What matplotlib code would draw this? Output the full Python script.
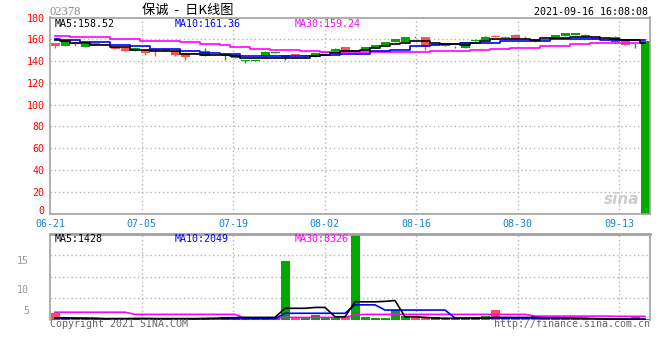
import numpy as np
import matplotlib
matplotlib.use("Agg")
import matplotlib.pyplot as plt
from matplotlib.transforms import offset_copy

# dates shown on the x axis and the bar index they belong to
DATE_LABELS = ["06-21", "07-05", "07-19", "08-02", "08-16", "08-30", "09-13"]
DATE_INDEX = [0, 9, 18, 27, 36, 46, 56]

OPEN = [156.4, 154.2, 156.2, 153.0, 156.4, 155.0, 153.3, 152.4, 149.3, 149.7,
        151.0, 151.0, 149.0, 147.0, 146.3, 145.0, 146.4, 144.2, 143.2, 140.3,
        140.2, 144.7, 147.8, 143.5, 145.7, 144.8, 144.7, 147.8, 149.3, 152.6,
        148.7, 150.0, 151.8, 154.5, 157.3, 157.3, 162.0, 161.8, 154.5, 154.0,
        152.6, 152.4, 158.6, 159.4, 162.7, 162.5, 164.0, 161.2, 160.0, 159.4,
        162.0, 163.0, 164.0, 162.0, 161.0, 160.0, 157.3, 160.0, 156.2, 0.0]
CLOSE = [154.2, 158.5, 155.8, 155.5, 154.8, 154.6, 151.1, 149.3, 151.8, 147.2,
         148.8, 149.0, 145.2, 143.6, 146.6, 149.0, 146.1, 146.6, 145.8, 140.7,
         140.6, 148.0, 148.1, 145.6, 145.4, 145.1, 147.0, 148.2, 151.0, 149.3,
         150.0, 152.6, 154.8, 157.3, 160.0, 161.8, 161.7, 153.3, 155.7, 156.0,
         153.0, 157.3, 159.0, 162.5, 162.4, 161.0, 160.3, 160.9, 157.8, 159.8,
         164.0, 165.5, 165.5, 164.0, 160.5, 159.6, 161.9, 154.8, 156.6, 158.0]
HIGH = [156.6, 158.6, 156.4, 156.0, 156.6, 155.2, 153.4, 152.5, 152.0, 149.8,
        151.1, 151.2, 149.2, 147.1, 146.8, 151.8, 146.6, 146.8, 146.0, 140.9,
        140.8, 149.4, 148.3, 145.8, 146.8, 145.3, 147.2, 148.6, 151.8, 152.8,
        150.2, 152.8, 155.0, 157.5, 160.2, 162.0, 163.0, 162.0, 155.9, 156.2,
        153.4, 157.5, 159.8, 162.7, 163.6, 162.7, 164.6, 162.6, 160.2, 160.0,
        164.2, 166.0, 166.2, 164.6, 161.2, 160.2, 163.0, 160.2, 156.8, 158.2]
LOW = [152.4, 154.0, 153.4, 152.9, 154.6, 154.4, 151.0, 149.2, 149.2, 145.6,
       144.7, 148.8, 145.0, 140.8, 146.1, 144.8, 145.9, 141.2, 143.0, 138.6,
       140.1, 144.6, 147.7, 141.4, 145.0, 142.5, 143.3, 147.6, 149.2, 149.2,
       148.6, 149.9, 151.7, 154.4, 157.2, 157.2, 160.8, 150.2, 154.4, 153.9,
       152.4, 152.3, 158.2, 159.3, 161.8, 160.9, 160.2, 160.0, 157.2, 159.3,
       161.9, 162.8, 163.9, 161.9, 160.4, 159.5, 157.0, 154.7, 152.4, 0.0]

MA5 = [159.0, 158.2, 156.7, 156.7, 154.8, 154.8, 153.0, 153.0, 150.6, 150.6,
       149.0, 149.0, 149.0, 146.9, 146.9, 145.3, 145.3, 145.3, 144.4, 143.2,
       143.2, 143.2, 143.2, 143.2, 143.2, 143.2, 144.7, 146.0, 147.0, 149.0,
       149.0, 150.6, 152.0, 153.7, 155.4, 156.9, 158.2, 158.2, 156.7, 156.0,
       156.0, 155.2, 156.7, 158.5, 160.6, 160.6, 160.6, 160.6, 159.7, 161.6,
       161.6, 161.6, 162.5, 162.5, 162.5, 161.6, 160.6, 159.0, 159.0, 156.7]
MA10 = [160.0, 159.0, 159.0, 157.8, 157.8, 157.8, 155.2, 155.2, 153.7, 153.7,
        151.5, 151.5, 151.5, 149.0, 149.0, 147.5, 147.5, 146.3, 146.3, 144.5,
        144.5, 144.5, 144.7, 144.7, 144.7, 144.7, 144.7, 146.0, 146.0, 146.9,
        146.9, 146.9, 149.0, 149.0, 150.6, 150.6, 153.9, 153.9, 154.5, 155.4,
        155.4, 156.7, 156.7, 156.7, 156.7, 158.2, 158.2, 158.2, 158.2, 158.2,
        160.0, 160.0, 160.0, 160.0, 160.0, 159.7, 159.7, 159.7, 159.7, 159.7]
MA30 = [163.1, 163.1, 161.8, 161.8, 161.8, 161.8, 160.7, 160.7, 160.7, 158.8,
        158.8, 158.8, 158.8, 157.6, 157.6, 155.7, 155.7, 154.5, 153.0, 153.0,
        151.5, 151.5, 150.6, 150.6, 150.2, 149.0, 149.0, 148.0, 148.0, 148.0,
        148.0, 148.0, 148.0, 148.0, 148.4, 148.4, 148.4, 148.4, 149.0, 149.0,
        149.0, 149.0, 150.0, 150.0, 151.4, 151.4, 152.4, 152.4, 152.4, 154.0,
        154.0, 154.0, 155.4, 155.4, 156.3, 156.3, 156.3, 157.0, 157.0, 157.6]

# volume in units of 10k (scale labels 5 / 10 / 15)
VOLUME = [1.7, 0.3, 0.3, 0.25, 0.3, 0.25, 0.3, 0.3, 0.5, 0.3,
          0.3, 0.3, 0.3, 0.3, 0.3, 0.5, 0.5, 0.8, 0.5, 0.8,
          0.4, 0.8, 0.4, 13.7, 0.6, 0.6, 1.15, 0.6, 0.4, 0.6,
          21.0, 0.8, 0.4, 0.4, 2.2, 0.9, 0.6, 0.6, 0.6, 0.4,
          0.4, 0.4, 0.4, 0.9, 2.2, 0.4, 0.4, 0.4, 0.9, 0.4,
          0.9, 0.4, 0.4, 0.4, 0.25, 0.25, 0.25, 0.2, 0.6, 0.25]
VOL_MA5 = [0.5, 0.5, 0.45, 0.45, 0.4, 0.3, 0.3, 0.3, 0.35, 0.35,
           0.3, 0.3, 0.3, 0.3, 0.3, 0.35, 0.4, 0.5, 0.55, 0.6,
           0.6, 0.6, 0.6, 2.7, 2.7, 2.7, 2.9, 2.9, 0.75, 0.75,
           4.2, 4.2, 4.2, 4.3, 4.5, 0.75, 0.75, 0.6, 0.45, 0.4,
           0.4, 0.4, 0.4, 0.45, 0.6, 0.6, 0.6, 0.6, 0.6, 0.5,
           0.5, 0.45, 0.4, 0.4, 0.3, 0.25, 0.25, 0.2, 0.2, 0.15]
VOL_MA10 = [0.35, 0.35, 0.35, 0.3, 0.3, 0.3, 0.3, 0.3, 0.3, 0.3,
            0.3, 0.3, 0.3, 0.3, 0.3, 0.3, 0.3, 0.3, 0.3, 0.3,
            0.3, 0.3, 0.3, 1.55, 1.55, 1.55, 1.55, 1.55, 1.55, 1.55,
            3.5, 3.5, 3.5, 2.3, 2.3, 2.3, 2.3, 2.3, 2.3, 2.3,
            0.45, 0.45, 0.45, 0.45, 0.45, 0.45, 0.4, 0.4, 0.4, 0.4,
            0.35, 0.35, 0.35, 0.3, 0.3, 0.25, 0.25, 0.2, 0.2, 0.2]
VOL_MA30 = [1.8, 1.8, 1.8, 1.8, 1.8, 1.8, 1.8, 1.8, 1.3, 1.3,
            1.3, 1.3, 1.3, 1.3, 1.3, 1.3, 1.3, 1.3, 1.3, 0.4,
            0.4, 0.4, 0.4, 0.6, 0.6, 0.6, 0.6, 0.6, 0.6, 0.6,
            1.15, 1.3, 1.3, 1.3, 1.3, 1.3, 1.3, 1.3, 1.3, 1.3,
            1.3, 1.3, 1.3, 1.3, 1.3, 1.3, 1.3, 1.3, 0.9, 0.9,
            0.9, 0.9, 0.9, 0.9, 0.9, 0.9, 0.85, 0.85, 0.85, 0.83]

RED = "#ff5050"
GREEN = "#00a800"
GRID = "#b4b4b4"
FRAME = "#a0a0a0"
MONO = "DejaVu Sans Mono"
W, H = 660, 360


def px(x, y):
    # pixel position -> figure fraction
    return x / W, 1 - y / H


def axes_box(left, top, right, bottom):
    return [left / W, 1 - bottom / H, (right - left) / W, (bottom - top) / H]


def style_grid(ax, tick_pos):
    for x in tick_pos[1:]:
        ax.axvline(x, color=GRID, lw=1, ls=(0, (1, 2)), zorder=0)
    for s in ax.spines.values():
        s.set_color(FRAME)
        s.set_linewidth(1.2)


def main():
    x = np.arange(len(OPEN))
    o, c = np.array(OPEN), np.array(CLOSE)
    colors = [GREEN if cc > oo else RED for oo, cc in zip(o, c)]
    # grid lines are spaced on n-1 steps, bars on n
    tick_pos = [i * len(x) / (len(x) - 1) - 0.5 for i in DATE_INDEX]

    fig = plt.figure(figsize=(W / 100, H / 100), dpi=100)

    # price panel
    ax = fig.add_axes(axes_box(50, 17.5, 650, 213.5))
    ax.set_xlim(-0.5, len(x) - 0.5)
    ax.set_ylim(0, 180)
    style_grid(ax, tick_pos)
    for yv in range(20, 180, 20):
        ax.axhline(yv, color=GRID, lw=1, ls=(0, (1, 2)), zorder=0)

    ax.vlines(x, LOW, HIGH, colors=colors, lw=1, zorder=2)
    ax.bar(x, np.maximum(np.abs(c - o), 0.7), bottom=np.minimum(o, c),
           width=0.9, color=colors, lw=0, zorder=2)
    ax.plot(x, MA30, color="#ff00ff", lw=1.2, drawstyle="steps-mid", zorder=3)
    ax.plot(x, MA10, color="#0000ff", lw=1.2, drawstyle="steps-mid", zorder=3)
    ax.plot(x, MA5, color="black", lw=1.2, drawstyle="steps-mid", zorder=3)

    ax.set_yticks(range(0, 181, 20))
    ax.set_yticklabels([str(v) for v in range(0, 181, 20)], color="red",
                       family=MONO, fontsize=7.2)
    ax.set_xticks(tick_pos)
    ax.set_xticklabels(DATE_LABELS, color="#1284d6", family=MONO, fontsize=7.2)
    ax.tick_params(length=0, pad=4)
    # nudge the "0" label up a little so it clears the first date
    zero = ax.get_yticklabels()[0]
    zero.set_transform(offset_copy(zero.get_transform(), fig=fig,
                                   y=3, units="dots"))

    # volume panel
    av = fig.add_axes(axes_box(50, 234, 650, 320))
    av.set_xlim(-0.5, len(x) - 0.5)
    av.set_ylim(0, 86 / 4.33)
    style_grid(av, tick_pos)
    av.spines["bottom"].set_visible(False)
    av.spines["top"].set_linewidth(2)
    for yv in (5, 10, 15):
        av.axhline(yv, color=GRID, lw=1, ls=(0, (1, 2)), zorder=0)
    av.bar(x, VOLUME, width=0.9, color=colors, lw=0, zorder=2)
    av.plot(x, VOL_MA30, color="#ff00ff", lw=1.2, zorder=3)
    av.plot(x, VOL_MA10, color="#0000ff", lw=1.2, zorder=3)
    av.plot(x, VOL_MA5, color="black", lw=1.2, zorder=3)
    av.set_xticks([])
    av.set_yticks([])
    for label, yy in (("15", 261), ("10", 290), ("5", 310.5)):
        fig.text(*px(29, yy), label, ha="right", va="center",
                 color="#999999", family=MONO, fontsize=7.2)

    # header texts
    fig.text(*px(50, 12), "02378", ha="left", va="center", color="#888888",
             family="Liberation Serif", fontsize=9)
    fig.text(*px(188, 10), "保诚  -  日K线图", ha="center", va="center",
             family=["Noto Sans CJK SC", "DejaVu Sans"], fontsize=9.5)
    fig.text(*px(648, 12), "2021-09-16 16:08:08", ha="right", va="center",
             family=MONO, fontsize=7.2)

    for y, labels in ((23.7, ("MA5:158.52", "MA10:161.36", "MA30:159.24")),
                      (238.5, ("MA5:1428", "MA10:2049", "MA30:8326"))):
        for xx, txt, col in zip((55, 175, 295), labels,
                                ("black", "#0000ff", "#ff00ff")):
            fig.text(*px(xx, y), txt, ha="left", va="center", color=col,
                     family=MONO, fontsize=7.2)

    # footer and watermark
    fig.text(*px(50, 324), "Copyright 2021 SINA.COM", ha="left", va="center",
             color="#666666", family=MONO, fontsize=7.2)
    fig.text(*px(650, 324), "http://finance.sina.com.cn", ha="right",
             va="center", color="#666666", family=MONO, fontsize=7.2)
    fig.text(*px(622, 200), "sina", ha="center", va="center", color="#cccccc",
             fontsize=11, fontweight="bold", style="italic")

    fig.savefig("out.png", dpi=100, facecolor="white")


if __name__ == "__main__":
    main()
